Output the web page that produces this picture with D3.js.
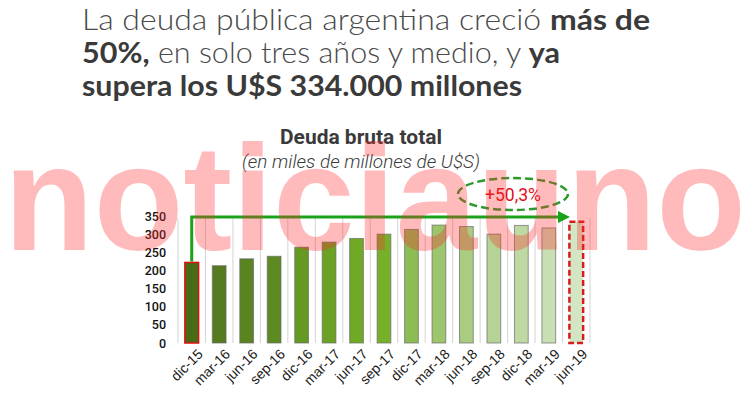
<!DOCTYPE html>
<html>
<head>
<meta charset="utf-8">
<script src="https://cdn.jsdelivr.net/npm/d3@7"></script>
<style>
  html, body { margin: 0; padding: 0; background: #fff; }
  svg { display: block; }
</style>
</head>
<body>
<div id="chart"></div>
<script>
// Datos (miles de millones de U$S)
const periods = ["dic-15", "mar-16", "jun-16", "sep-16", "dic-16", "mar-17", "jun-17", "sep-17",
                 "dic-17", "mar-18", "jun-18", "sep-18", "dic-18", "mar-19", "jun-19"];
const debt = [222, 213, 232, 239, 264, 278, 288, 300, 313, 325, 321, 300, 324, 317, 334];
const barColors = ["#4a6b16", "#557a1f", "#5a8420", "#5e8a22", "#659a22", "#6ba223", "#70a925", "#77b12b",
                   "#8cbd55", "#9cc56c", "#a9cc80", "#b5d394", "#bfd9a4", "#c8deb3", "#d3e6c4"];
const yTicks = [0, 50, 100, 150, 200, 250, 300, 350];
const growthLabel = "+50,3%";

const W = 750, H = 398;
const margin = { top: 218, right: 160, bottom: 55, left: 178 };

const svg = d3.select("#chart").append("svg")
    .attr("width", W)
    .attr("height", H);

// Titular
const head = svg.append("g")
    .style("font-family", "Lato, 'Open Sans', sans-serif")
    .style("font-size", "29px")
    .style("fill", "#444");
const lines = [
    [["La deuda pública argentina creció ", 300], ["más de", 700]],
    [["50%,", 700], [" en solo tres años y medio, y ", 300], ["ya", 700]],
    [["supera los U$S 334.000 millones", 700]]
];
const lineWidths = [568, 478, 440];
lines.forEach((parts, i) => {
    const t = head.append("text")
        .attr("x", 82).attr("y", 30 + i * 33)
        .attr("textLength", lineWidths[i])
        .attr("lengthAdjust", "spacingAndGlyphs");
    parts.forEach(p => {
        t.append("tspan")
            .text(p[0])
            .style("font-weight", p[1])
            .style("fill", p[1] === 700 ? "#3a3a3a" : "#4a4a4a");
    });
});

// Título del gráfico
svg.append("text")
    .attr("x", 361).attr("y", 144)
    .attr("text-anchor", "middle")
    .attr("textLength", 162).attr("lengthAdjust", "spacingAndGlyphs")
    .style("font-family", "Roboto, sans-serif")
    .style("font-weight", 700)
    .style("font-size", "21px")
    .style("fill", "#3a3a3a")
    .text("Deuda bruta total");

svg.append("text")
    .attr("x", 361).attr("y", 168)
    .attr("text-anchor", "middle")
    .attr("textLength", 238).attr("lengthAdjust", "spacingAndGlyphs")
    .style("font-family", "Roboto, sans-serif")
    .style("font-style", "italic")
    .style("font-weight", 300)
    .style("font-size", "18px")
    .style("fill", "#3a3a3a")
    .text("(en miles de millones de U$S)");

// Escalas
const x = d3.scaleBand()
    .domain(periods)
    .range([margin.left, W - margin.right])
    .paddingInner(0.5)
    .paddingOuter(0.25);

const y = d3.scaleLinear()
    .domain([0, 350])
    .range([H - margin.bottom, margin.top - 2]);

// Líneas verticales de separación (entre categorías)
const colW = (W - margin.right - margin.left) / periods.length;
svg.append("g")
    .selectAll("line")
    .data(d3.range(periods.length + 1))
    .join("line")
    .attr("x1", i => margin.left + i * colW)
    .attr("x2", i => margin.left + i * colW)
    .attr("y1", margin.top)
    .attr("y2", y(0))
    .style("stroke", "#d4d4d4")
    .style("stroke-width", 1);

// Barras
const lastIdx = periods.length - 1;
svg.append("g")
    .selectAll("rect")
    .data(debt)
    .join("rect")
    .attr("x", (d, i) => x(periods[i]))
    .attr("y", d => y(d))
    .attr("width", x.bandwidth())
    .attr("height", d => y(0) - y(d))
    .style("fill", (d, i) => barColors[i])
    .style("stroke", (d, i) => i === 0 ? "#e01010" : (i === lastIdx ? "#d81c1c" : "#6a6a6a"))
    .style("stroke-width", (d, i) => i === 0 ? 1.5 : (i === lastIdx ? 2.5 : 1))
    .style("stroke-opacity", (d, i) => (i === 0 || i === lastIdx) ? 1 : 0.7)
    .style("stroke-dasharray", (d, i) => i === lastIdx ? "6,3" : null);

// Eje Y
const yAxis = svg.append("g")
    .attr("transform", `translate(${margin.left - 8},0)`)
    .call(d3.axisLeft(y).tickValues(yTicks).tickSize(0).tickPadding(4));
yAxis.select(".domain").remove();
yAxis.selectAll("text")
    .style("font-family", "Roboto, sans-serif")
    .style("font-weight", 500)
    .style("font-size", "12.5px")
    .style("fill", "#111");

// Eje X
const xAxis = svg.append("g")
    .attr("transform", `translate(0,${y(0)})`)
    .call(d3.axisBottom(x).tickSize(0).tickPadding(0));
xAxis.select(".domain").remove();
xAxis.selectAll("text")
    .attr("text-anchor", "end")
    .attr("transform", "translate(5,5) rotate(-45)")
    .attr("y", 0)
    .attr("dy", "0.7em")
    .style("font-family", "'Liberation Sans', Arial, sans-serif")
    .style("font-size", "14px")
    .style("fill", "#1a1a1a");

// Flecha de crecimiento
const first = periods[0], last = periods[lastIdx];
const arrowY = y(350) + 1;
svg.append("defs").append("marker")
    .attr("id", "arrow")
    .attr("viewBox", "0 0 10 10")
    .attr("refX", 2).attr("refY", 5)
    .attr("markerWidth", 4).attr("markerHeight", 4)
    .attr("orient", "auto")
    .append("path")
    .attr("d", "M0,0 L10,5 L0,10 Z")
    .style("fill", "#1aa31a");

svg.append("path")
    .attr("d", `M${x(first) + x.bandwidth() / 2},${y(debt[0]) - 1} V${arrowY} H${x(last) - 9}`)
    .style("fill", "none")
    .style("stroke", "#1aa31a")
    .style("stroke-width", 3)
    .attr("marker-end", "url(#arrow)");

// Elipse con el porcentaje
svg.append("ellipse")
    .attr("cx", 513).attr("cy", 194)
    .attr("rx", 55).attr("ry", 16)
    .style("fill", "none")
    .style("stroke", "#2e9a2e")
    .style("stroke-width", 2.5)
    .style("stroke-dasharray", "8,4");

svg.append("text")
    .attr("x", 513).attr("y", 201)
    .attr("text-anchor", "middle")
    .attr("textLength", 56).attr("lengthAdjust", "spacingAndGlyphs")
    .style("font-family", "Roboto, sans-serif")
    .style("font-size", "19px")
    .style("fill", "#e0101a")
    .text(growthLabel);

// Marca de agua
svg.append("text")
    .attr("x", 4).attr("y", 250)
    .attr("textLength", 742).attr("lengthAdjust", "spacingAndGlyphs")
    .style("font-family", "'Liberation Sans', Arial, sans-serif")
    .style("font-weight", 700)
    .style("font-size", "150px")
    .style("fill", "#ff2a2a")
    .style("fill-opacity", 0.32)
    .text("noticiauno");
</script>
</body>
</html>
